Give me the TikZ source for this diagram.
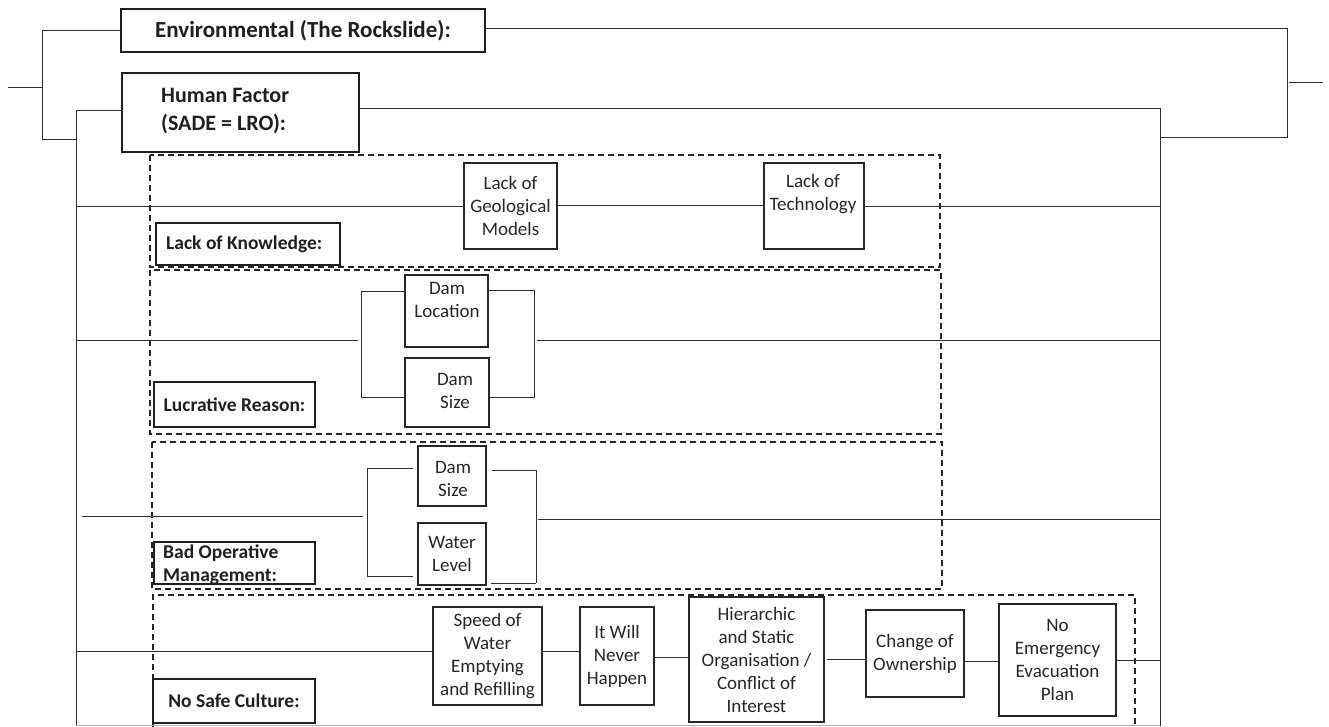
\documentclass[tikz,border=0pt]{standalone}
\usepackage{fontspec}
\setmainfont{Carlito}
\begin{document}
\begin{tikzpicture}[x=1pt,y=-1pt,
  conn/.style={line width=1pt, draw=black!82},
  cbox/.style={draw=black!85, line width=1.4pt, inner sep=0pt, outer sep=0pt,
    font=\fontsize{19}{23}\selectfont, text=black!85, align=center},
  lbox/.style={draw=black!88, line width=2.8pt, inner sep=0pt, outer sep=0pt,
    font=\bfseries\fontsize{19.5}{23}\selectfont, text=black!88, align=center},
  ctext/.style={font=\fontsize{19}{23}\selectfont, text=black!85, align=center, inner sep=0pt},
  btext/.style={font=\bfseries\fontsize{19.5}{23}\selectfont, text=black!88, align=left, inner sep=0pt},
  group/.style={draw=black!85, line width=1.3pt, dash pattern=on 6pt off 4pt},
]
\useasboundingbox (0,0) rectangle (1329,726);

% ---------- skeleton coordinates ----------
\coordinate (root)    at (8,87);
\coordinate (fork)    at (42,87);
\coordinate (forkT)   at (42,30);
\coordinate (forkB)   at (42,139);
\coordinate (spineL)  at (76,110);
\coordinate (spineLb) at (76,726);
\coordinate (spineR)  at (1160,108);
\coordinate (spineRb) at (1160,726);
\coordinate (cornerT) at (1287,28);
\coordinate (cornerB) at (1287,137);
\coordinate (joinR)   at (1289,82);
\coordinate (outR)    at (1323,82);

% ---------- dashed groups ----------
\draw[group] (150,155) rectangle (940,267);
\draw[group] (150,270) rectangle (941,434);
\draw[group] (152,442) rectangle (942,589);
\draw[group] (153,730) -- (153,595) -- (1135,595) -- (1135,730);

% ---------- main categories ----------
\node[lbox, minimum width=364, minimum height=43, font=\bfseries\fontsize{23}{28}\selectfont] (env) at (303,30.5) {Environmental (The Rockslide):};
\node[lbox, minimum width=237, minimum height=79] (hum) at (240.5,112.5) {};
\node[btext, anchor=west, font=\bfseries\fontsize{22}{28}\selectfont] (humt) at (161,111) {Human Factor\\(SADE = LRO):};

% ---------- row 1: lack of knowledge ----------
\node[cbox, minimum width=93, minimum height=86] (geo) at (510.5,206) {Lack of\\Geological\\Models};
\node[cbox, minimum width=100, minimum height=86] (tech) at (814,206) {};
\node[ctext] (techt) at (813,194) {Lack of\\Technology};
\node[lbox, minimum width=184, minimum height=42] (lok) at (248,244) {};
\node[btext, anchor=west] (lokt) at (166,244) {Lack of Knowledge:};

% ---------- row 2: lucrative reason ----------
\node[cbox, minimum width=83, minimum height=72] (dloc) at (446.5,311) {};
\node[ctext] (dloct) at (447,300) {Dam\\Location};
\node[cbox, minimum width=84, minimum height=69] (dsza) at (447,392.5) {};
\node[ctext] (dszat) at (455,391) {Dam\\Size};
\node[lbox, minimum width=161, minimum height=45] (lucr) at (234.5,404.5) {Lucrative Reason:};

% ---------- row 3: bad operative management ----------
\node[cbox, minimum width=68, minimum height=60] (dszb) at (452,476) {};
\node[ctext] (dszbt) at (453,479) {Dam\\Size};
\node[cbox, minimum width=68, minimum height=62] (wlev) at (452,554) {Water\\Level};
\node[lbox, minimum width=161, minimum height=42] (bom) at (234.5,563) {};
\node[btext, anchor=west] (bomt) at (163,565) {Bad Operative\\Management:};

% ---------- row 4: no safe culture ----------
\node[cbox, minimum width=109, minimum height=98] (spd) at (487.5,656) {Speed of\\Water\\Emptying\\and Refilling};
\node[cbox, minimum width=74, minimum height=98] (itw) at (617,656) {It Will\\Never\\Happen};
\node[cbox, minimum width=135, minimum height=125] (hier) at (756.5,659.5) {Hierarchic\\and Static\\Organisation /\\Conflict of\\Interest};
\node[cbox, minimum width=98, minimum height=87] (chg) at (915,653.5) {Change of\\Ownership};
\node[cbox, minimum width=117, minimum height=112] (noem) at (1057.5,660) {No\\Emergency\\Evacuation\\Plan};
\node[lbox, minimum width=162, minimum height=44] (nsc) at (234,701) {No Safe Culture:};

% ---------- top-level fork ----------
\draw[conn] (root) -- (fork);
\draw[conn] (forkT) -- (forkB);
\draw[conn] (forkT) -- (forkT -| env.west);
\draw[conn] (forkB) -- (forkB -| spineL);
\draw[conn] (spineL) -- (spineLb);
\draw[conn] (spineL) -- (spineL -| hum.west);
\draw[conn] ([yshift=2.5pt]env.east) -- (cornerT) -- (cornerB) -- (cornerB -| spineR);
\draw[conn] (joinR) -- (outR);
\draw[conn] ([yshift=4.5pt]hum.east) -- (spineR) -- (spineRb);
\draw[black!30, line width=1pt] (76,725) -- (1160,725);

% ---------- row 1 connectors ----------
\draw[conn] (geo.west -| spineL) -- (geo.west);
\draw[conn] ([yshift=1pt]geo.east) -- ([yshift=1pt]tech.west);
\draw[conn] (tech.east) -- (tech.east -| spineR);

% ---------- row 2 connectors ----------
\coordinate (lb2t) at (361,291);
\coordinate (lb2b) at (361,397);
\coordinate (lb2m) at (358,340);
\coordinate (rb2t) at (534,290);
\coordinate (rb2b) at (534,397);
\coordinate (rb2m) at (537,340);
\draw[conn] (lb2m -| spineL) -- (lb2m);
\draw[conn] (lb2t -| dloc.west) -- (lb2t) -- (lb2b) -- (lb2b -| dsza.west);
\draw[conn] (rb2t -| dloc.east) -- (rb2t) -- (rb2b) -- (rb2b -| dsza.east);
\draw[conn] (rb2m) -- (rb2m -| spineR);

% ---------- row 3 connectors ----------
\coordinate (lf3)  at (82,516);
\coordinate (lb3t) at (367,468);
\coordinate (lb3b) at (367,576);
\coordinate (lb3m) at (363,516);
\coordinate (rb3t) at (536,470);
\coordinate (rb3b) at (536,583);
\coordinate (rb3m) at (538,519);
\draw[conn] (lf3) -- (lb3m);
\draw[conn, shorten >=5pt] (lb3t) -- (lb3t -| dszb.west);
\draw[conn] (lb3t) -- (lb3b);
\draw[conn, shorten >=5pt] (lb3b) -- (lb3b -| wlev.west);
\draw[conn, shorten <=6pt] (rb3t -| dszb.east) -- (rb3t) -- (rb3b);
\draw[conn, shorten <=5pt] (rb3b -| wlev.east) -- (rb3b);
\draw[conn] (rb3m) -- (rb3m -| spineR);

% ---------- row 4 connectors ----------
\draw[conn] ([yshift=5pt]spd.west -| spineL) -- ([yshift=5pt]spd.west);
\draw[conn] ([yshift=5pt]spd.east) -- ([yshift=5pt]itw.west);
\draw[conn] ([yshift=-1pt]itw.east) -- ([yshift=-1pt]itw.east -| hier.west);
\draw[conn, shorten <=3pt] (hier.east) -- (hier.east -| chg.west);
\draw[conn] ([yshift=-7.5pt]chg.east) -- ([yshift=-7.5pt]chg.east -| noem.west);
\draw[conn] (noem.east) -- (noem.east -| spineR);
\end{tikzpicture}
\end{document}
